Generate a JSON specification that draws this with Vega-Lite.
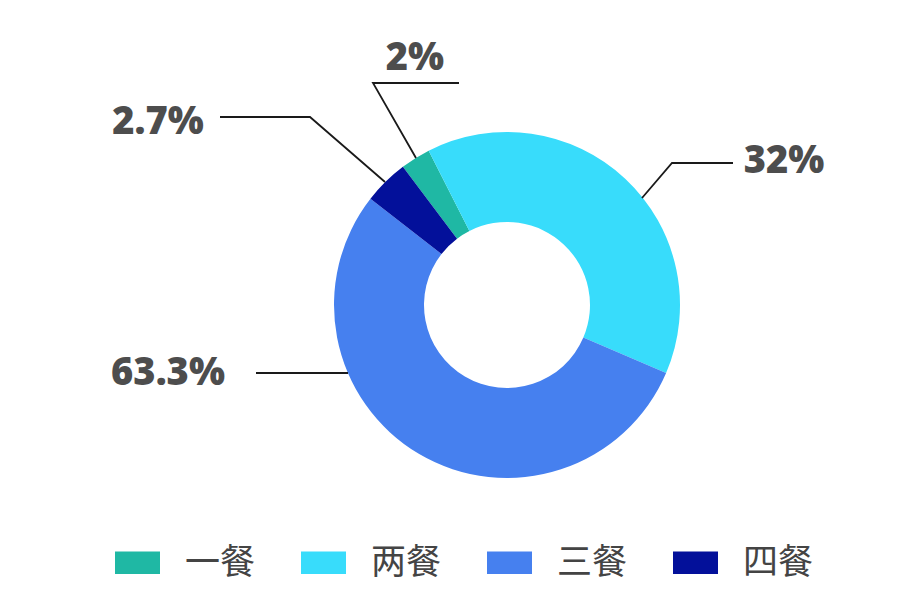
{
  "$schema": "https://vega.github.io/schema/vega-lite/v6.json",
  "width": 920,
  "height": 600,
  "padding": 0,
  "autosize": {"type": "none"},
  "background": "#ffffff",
  "config": {"view": {"stroke": null}},
  "datasets": {
    "slices": [
      {"idx": 1, "meal": "一餐", "share": 2.8, "label": "2%"},
      {"idx": 2, "meal": "两餐", "share": 38.9, "label": "32%"},
      {"idx": 3, "meal": "三餐", "share": 54.1, "label": "63.3%"},
      {"idx": 4, "meal": "四餐", "share": 4.2, "label": "2.7%"}
    ],
    "leaders": [
      {"meal": "一餐", "seq": 1, "x": -48, "y": 222},
      {"meal": "一餐", "seq": 2, "x": -134, "y": 222},
      {"meal": "一餐", "seq": 3, "x": -91, "y": 147},
      {"meal": "四餐", "seq": 1, "x": -287, "y": 188},
      {"meal": "四餐", "seq": 2, "x": -197, "y": 188},
      {"meal": "四餐", "seq": 3, "x": -122, "y": 123},
      {"meal": "两餐", "seq": 1, "x": 226, "y": 142},
      {"meal": "两餐", "seq": 2, "x": 165, "y": 142},
      {"meal": "两餐", "seq": 3, "x": 135, "y": 107},
      {"meal": "三餐", "seq": 1, "x": -251, "y": -68},
      {"meal": "三餐", "seq": 2, "x": -159, "y": -68}
    ],
    "labels": [
      {"meal": "一餐", "text": "2%", "x": -92, "y": 235},
      {"meal": "四餐", "text": "2.7%", "x": -349, "y": 171},
      {"meal": "两餐", "text": "32%", "x": 277, "y": 132},
      {"meal": "三餐", "text": "63.3%", "x": -339, "y": -80}
    ]
  },
  "layer": [
    {
      "data": {"name": "slices"},
      "mark": {"type": "arc", "radius": 173, "radius2": 83, "strokeWidth": 0},
      "encoding": {
        "x": {"datum": 0, "type": "quantitative", "scale": {"domain": [-507, 413], "nice": false, "zero": false}, "axis": null},
        "y": {"datum": 0, "type": "quantitative", "scale": {"domain": [-295, 305], "nice": false, "zero": false}, "axis": null},
        "theta": {"field": "share", "type": "quantitative", "stack": true, "scale": {"range": [5.6374, 11.9206]}},
        "order": {"field": "idx", "type": "quantitative"},
        "color": {
          "field": "meal",
          "type": "nominal",
          "scale": {"domain": ["一餐", "两餐", "三餐", "四餐"], "range": ["#1fb8a4", "#38dcfb", "#4680ef", "#03109a"]},
          "legend": {
            "orient": "none",
            "direction": "horizontal",
            "legendX": 115,
            "legendY": 540,
            "title": null,
            "padding": 0,
            "symbolType": "M-1,-0.5H1V0.5H-1Z",
            "symbolSize": 2025,
            "symbolStrokeWidth": 0,
            "symbolOpacity": 1,
            "labelFont": "Noto Sans CJK SC",
            "labelFontSize": 35,
            "labelColor": "#444444",
            "labelOffset": 25,
            "labelLimit": 200,
            "columnPadding": 45
          }
        }
      }
    },
    {
      "data": {"name": "leaders"},
      "mark": {"type": "line", "color": "#1a1a1a", "strokeWidth": 1.8},
      "encoding": {
        "x": {"field": "x", "type": "quantitative"},
        "y": {"field": "y", "type": "quantitative"},
        "detail": {"field": "meal"},
        "order": {"field": "seq", "type": "quantitative"}
      }
    },
    {
      "data": {"name": "labels"},
      "mark": {"type": "text", "font": "Open Sans", "fontWeight": 800, "fontSize": 38, "color": "#4d4d4d", "align": "center", "baseline": "alphabetic"},
      "encoding": {
        "x": {"field": "x", "type": "quantitative"},
        "y": {"field": "y", "type": "quantitative"},
        "text": {"field": "text"}
      }
    }
  ]
}
